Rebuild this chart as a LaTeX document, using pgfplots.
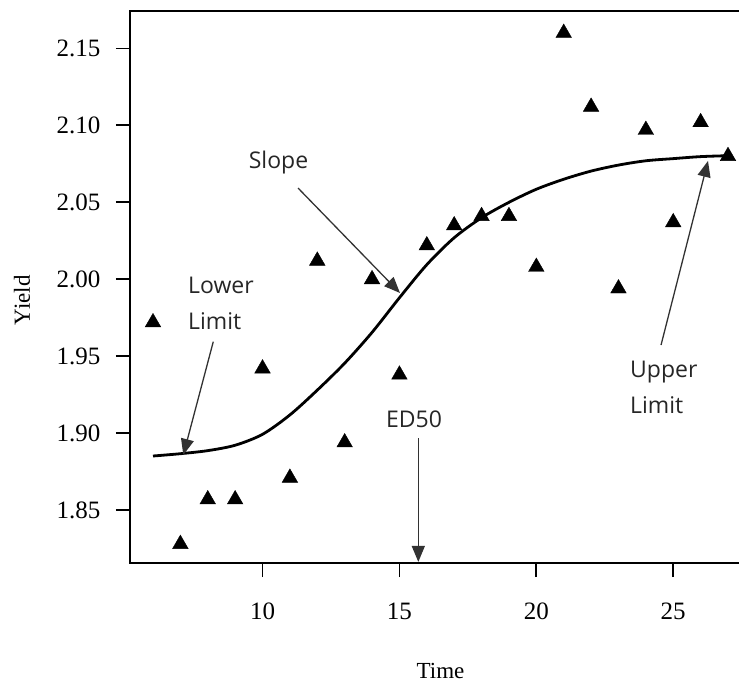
\documentclass[border=0pt]{standalone}
\usepackage{fontspec}
\setmainfont{Liberation Serif}
\newfontfamily\annot{Open Sans}
\usepackage{pgfplots}
\pgfplotsset{compat=1.18}
\usetikzlibrary{arrows.meta}

\definecolor{arrgray}{RGB}{50,50,50}

% observed yields
\pgfplotstableread{
t yield
6  1.972
7  1.828
8  1.857
9  1.857
10 1.942
11 1.871
12 2.012
13 1.894
14 2.000
15 1.938
16 2.022
17 2.035
18 2.041
19 2.041
20 2.008
21 2.160
22 2.112
23 1.994
24 2.097
25 2.037
26 2.102
27 2.080
}\obs

% fitted curve
\pgfplotstableread{
t fit
6  1.8852
7  1.8867
8  1.8887
9  1.8922
10 1.8993
11 1.9119
12 1.9280
13 1.9455
14 1.9655
15 1.9880
16 2.0095
17 2.0270
18 2.0400
19 2.0500
20 2.0585
21 2.0650
22 2.0703
23 2.0742
24 2.0770
25 2.0784
26 2.0797
27 2.0803
}\fit

\begin{document}
\begin{tikzpicture}[
  note/.style={font=\annot\fontsize{23}{27}\selectfont, text=black!85, inner sep=0pt},
  pointer/.style={draw=arrgray, line width=1.3pt, -{Triangle[length=16pt,width=13pt]}},
]
\begin{axis}[
  name=ax,
  scale only axis, width=621pt, height=552pt,
  xmin=5.16, xmax=27.84, ymin=1.8157, ymax=2.1743,
  xtick={10,15,20,25},
  ytick={1.85,1.90,1.95,2.00,2.05,2.10,2.15},
  /pgf/number format/assume math mode=true,
  yticklabel style={/pgf/number format/fixed, /pgf/number format/fixed zerofill,
    /pgf/number format/precision=2, xshift=-12pt},
  xticklabel style={yshift=-22pt},
  tick align=outside, major tick length=14pt,
  tick pos=left,
  tick style={line width=1.8pt, black},
  axis line style={line width=1.8pt},
  tick label style={font=\fontsize{25}{30}\selectfont},
  xlabel={Time}, ylabel={Yield},
  label style={font=\fontsize{23}{28}\selectfont},
  xlabel style={at={(axis description cs:0.5,-0.196)}, anchor=center},
  ylabel style={at={(axis description cs:-0.174,0.476)}, anchor=center},
  clip=false,
]
\addplot[black, line width=2.8pt, smooth] table[x=t, y=fit] {\fit};
\addplot[only marks, mark=triangle*, mark size=9pt, black] table[x=t, y=yield] {\obs};

\node[note, anchor=base] at (axis cs:10.584,2.0723) {Slope};
\draw[pointer] (axis cs:11.296,2.0593) -- (axis cs:15.021,1.9911);

\node[note, anchor=base west] at (axis cs:7.278,1.9911) {Lower};
\node[note, anchor=base west] at (axis cs:7.278,1.9671) {Limit};
\draw[pointer] (axis cs:8.202,1.9595) -- (axis cs:7.107,1.8859);

\node[note, anchor=base] at (axis cs:15.533,1.9036) {ED50};
\draw[pointer] (axis cs:15.69,1.8967) -- (axis cs:15.69,1.8164);

\node[note, anchor=base west] at (axis cs:23.421,1.9365) {Upper};
\node[note, anchor=base west] at (axis cs:23.421,1.9125) {Limit};
\draw[pointer] (axis cs:24.554,1.9573) -- (axis cs:26.27,2.0769);
\end{axis}
\pgfresetboundingbox
\path[use as bounding box] ([xshift=-130pt,yshift=-120pt]ax.south west) rectangle ++(739pt,683pt);
\end{tikzpicture}
\end{document}
